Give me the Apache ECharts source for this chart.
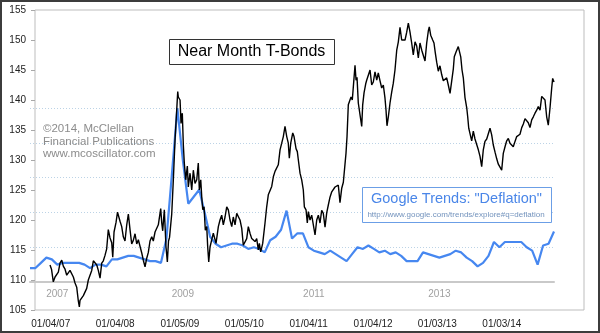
<!DOCTYPE html>
<html><head><meta charset="utf-8">
<script src="https://cdn.jsdelivr.net/npm/echarts@6.0.0/dist/echarts.min.js"></script>
<style>
html,body{margin:0;padding:0;background:#fff}
#wrap{position:relative;width:600px;height:333px}
#c{width:600px;height:333px}
#frame{position:absolute;left:0;top:0;width:600px;height:333px;box-sizing:border-box;border:2px solid #3c3c3c;pointer-events:none}
</style></head><body>
<div id="wrap"><div id="c"></div><div id="frame"></div></div>
<script>
// ---- Near Month T-Bond prices (x = decimal year) ----
const bondDates = [2006.997,2007.020,2007.048,2007.075,2007.101,2007.126,2007.152,2007.179,2007.203,2007.230,2007.256,2007.281,2007.307,2007.334,2007.359,2007.385,2007.411,2007.436,2007.452,2007.462,2007.489,2007.514,2007.540,2007.566,2007.591,2007.618,2007.644,2007.669,2007.695,2007.722,2007.746,2007.773,2007.799,2007.824,2007.850,2007.876,2007.901,2007.928,2007.954,2007.970,2007.990,2008.021,2008.044,2008.083,2008.109,2008.134,2008.160,2008.187,2008.212,2008.238,2008.264,2008.289,2008.316,2008.342,2008.367,2008.393,2008.420,2008.444,2008.471,2008.494,2008.522,2008.548,2008.575,2008.599,2008.626,2008.652,2008.677,2008.714,2008.730,2008.745,2008.770,2008.796,2008.817,2008.835,2008.851,2008.885,2008.910,2008.936,2008.962,2008.978,2008.987,2009.014,2009.029,2009.040,2009.049,2009.065,2009.080,2009.102,2009.127,2009.142,2009.169,2009.195,2009.220,2009.246,2009.273,2009.297,2009.313,2009.335,2009.350,2009.366,2009.386,2009.406,2009.428,2009.443,2009.459,2009.479,2009.505,2009.530,2009.572,2009.608,2009.634,2009.660,2009.685,2009.712,2009.738,2009.763,2009.789,2009.816,2009.840,2009.867,2009.893,2009.918,2009.944,2009.971,2009.995,2010.022,2010.048,2010.073,2010.099,2010.126,2010.151,2010.177,2010.203,2010.228,2010.244,2010.265,2010.296,2010.332,2010.358,2010.383,2010.410,2010.436,2010.461,2010.487,2010.514,2010.538,2010.565,2010.591,2010.616,2010.642,2010.669,2010.693,2010.709,2010.731,2010.762,2010.782,2010.813,2010.833,2010.849,2010.875,2010.901,2010.926,2010.942,2010.968,2010.988,2011.004,2011.030,2011.056,2011.081,2011.108,2011.134,2011.159,2011.185,2011.211,2011.236,2011.263,2011.289,2011.314,2011.340,2011.367,2011.391,2011.418,2011.444,2011.469,2011.495,2011.522,2011.547,2011.573,2011.588,2011.604,2011.624,2011.650,2011.666,2011.686,2011.713,2011.728,2011.744,2011.759,2011.779,2011.806,2011.832,2011.847,2011.868,2011.894,2011.909,2011.934,2011.961,2011.987,2012.012,2012.038,2012.065,2012.089,2012.116,2012.142,2012.167,2012.193,2012.209,2012.224,2012.245,2012.271,2012.297,2012.322,2012.348,2012.375,2012.400,2012.426,2012.452,2012.477,2012.504,2012.530,2012.555,2012.581,2012.607,2012.632,2012.659,2012.685,2012.710,2012.736,2012.763,2012.787,2012.814,2012.840,2012.865,2012.880,2012.902,2012.933,2012.953,2012.974,2012.995,2013.020,2013.046,2013.073,2013.098,2013.124,2013.150,2013.175,2013.202,2013.228,2013.253,2013.268,2013.295,2013.330,2013.346,2013.368,2013.388,2013.408,2013.434,2013.461,2013.476,2013.492,2013.512,2013.538,2013.563,2013.589,2013.616,2013.641,2013.667,2013.693,2013.718,2013.744,2013.771,2013.796,2013.822,2013.848,2013.873,2013.900,2013.926,2013.951,2013.977,2014.003,2014.028,2014.055,2014.081,2014.106,2014.132,2014.159,2014.183,2014.210,2014.236,2014.261,2014.287,2014.314,2014.339,2014.365,2014.391,2014.416,2014.442,2014.469,2014.494,2014.520,2014.546,2014.571,2014.598,2014.624,2014.649,2014.675,2014.701,2014.726,2014.753,2014.779,2014.794,2014.815];
const bondPrices = [112.5,111.8,109.7,110.5,110.2,111.3,112.8,113.3,112.3,111.8,110.8,110.6,111.6,111.3,110.5,109.5,108.8,106.5,105.5,106.6,106.8,107.4,107.7,108.6,110.0,110.3,111.6,113.2,112.9,112.5,111.6,110.3,112.8,113.2,114.1,115.2,118.4,117.0,116.2,113.8,118.0,119.6,121.3,119.8,118.9,117.2,116.5,119.2,121.0,118.4,116.0,116.6,117.7,116.0,116.7,116.5,114.5,113.3,112.2,113.5,114.6,116.5,117.2,116.5,118.0,118.3,119.2,121.9,119.5,118.2,121.7,115.5,113.0,116.5,117.1,121.0,126.7,133.3,138.3,141.4,140.5,140.0,136.1,137.4,137.8,132.5,129.5,126.7,129.0,125.5,127.8,125.0,128.3,126.1,126.7,129.5,125.0,126.7,123.9,121.7,122.2,118.3,118.9,115.5,113.0,115.5,116.7,117.8,116.1,118.9,120.0,120.8,119.2,120.5,122.2,121.7,120.0,118.9,120.5,119.2,121.1,121.4,120.0,118.6,115.8,115.5,116.9,118.9,117.8,116.9,117.2,116.4,116.9,115.0,116.1,114.7,116.1,119.5,122.2,124.2,123.9,125.6,127.2,128.1,128.3,129.2,131.7,132.8,133.9,135.6,133.9,132.8,130.3,132.8,134.5,133.9,131.9,131.4,130.0,127.8,126.7,125.0,122.2,121.7,119.5,121.4,120.0,120.8,121.1,117.5,120.0,120.8,119.5,121.6,121.1,118.8,121.2,122.5,123.8,124.7,124.7,125.5,125.5,125.8,122.9,125.3,126.3,126.1,131.1,133.9,139.2,139.0,140.5,140.0,140.0,145.8,143.3,143.8,139.5,139.5,135.6,139.2,141.2,142.7,143.3,143.0,145.0,142.5,143.0,144.7,143.3,144.5,143.2,142.0,142.5,140.3,138.3,135.7,137.2,139.5,141.3,142.8,145.0,148.3,149.7,152.1,150.0,149.7,150.0,151.3,152.8,151.3,149.5,147.5,149.7,149.0,147.0,149.5,148.3,148.2,146.5,149.5,151.5,152.2,150.8,150.0,149.5,147.8,146.3,144.8,145.7,144.2,143.2,143.5,143.7,142.5,141.1,143.2,145.2,147.2,148.0,148.9,149.2,147.2,145.0,143.7,140.4,138.7,137.2,135.3,135.6,133.2,134.8,133.5,133.3,131.7,130.6,128.9,131.7,133.1,133.5,133.6,135.3,134.2,132.5,131.3,130.2,129.3,129.0,128.3,131.1,132.2,133.2,133.6,132.8,133.1,132.2,133.1,133.9,134.0,134.3,135.4,136.0,136.9,137.2,136.2,135.4,136.7,137.2,137.8,138.3,138.9,138.3,140.6,140.8,140.0,137.2,135.8,138.7,142.0,143.6,143.0];

// ---- Google Trends "Deflation" (monthly, 0-100) ----
const trendMonths = [
 '2006-09','2006-10','2006-11','2006-12',
 '2007-01','2007-02','2007-03','2007-04','2007-05','2007-06','2007-07','2007-08','2007-09','2007-10','2007-11','2007-12',
 '2008-01','2008-02','2008-03','2008-04','2008-05','2008-06','2008-07','2008-08','2008-09','2008-10','2008-11','2008-12',
 '2009-01','2009-02','2009-03','2009-04','2009-05','2009-06','2009-07','2009-08','2009-09','2009-10','2009-11','2009-12',
 '2010-01','2010-02','2010-03','2010-04','2010-05','2010-06','2010-07','2010-08','2010-09','2010-10','2010-11','2010-12',
 '2011-01','2011-02','2011-03','2011-04','2011-05','2011-06','2011-07','2011-08','2011-09','2011-10','2011-11','2011-12',
 '2012-01','2012-02','2012-03','2012-04','2012-05','2012-06','2012-07','2012-08','2012-09','2012-10','2012-11','2012-12',
 '2013-01','2013-02','2013-03','2013-04','2013-05','2013-06','2013-07','2013-08','2013-09','2013-10','2013-11','2013-12',
 '2014-01','2014-02','2014-03','2014-04','2014-05','2014-06','2014-07','2014-08','2014-09'];
const trendValues = [8,8,11,14,13,10,11,11,11,11,10,8,10,10,9,13,13,14,15,15,14,13,12,12,11,25,62,100,70,45,49,53,40,26,22,20,21,22,22,21,19,20,19,17,24,26,30,41,25,28,28,20,18,17,16,18,16,14,12,16,20,19,21,19,17,18,16,17,15,12,12,12,17,16,15,14,15,16,18,17,14,12,9,11,15,23,20,23,23,23,23,20,18,10,21,22,29];
const trendLabelIdx = [5, 28, 52, 75];
const trendLabelText = ['2007', '2009', '2011', '2013'];

// ---- main axis tick labels ----
const xTickPos = [2007.008, 2008.008, 2009.011, 2010.011, 2011.008, 2012.008, 2013.005, 2014.005];
const xTickText = ['01/04/07', '01/04/08', '01/05/09', '01/05/10', '01/04/11', '01/04/12', '01/03/13', '01/03/14'];

const FONT = '"Liberation Sans", Arial, sans-serif';
const bondData = bondDates.map((d, i) => [d, bondPrices[i]]);

const chart = echarts.init(document.getElementById('c'));
chart.setOption({
  animation: false,
  backgroundColor: '#ffffff',
  textStyle: { fontFamily: FONT },
  grid: [
    { left: 35, right: 16, top: 10, bottom: 23, show: true, borderColor: '#bdbdbd', borderWidth: 1 },
    { left: 30, right: 46, top: 108, bottom: 51 }
  ],
  xAxis: [
    { gridIndex: 0, type: 'value', min: 2006.764, max: 2015.280,
      axisLine: { show: false }, axisTick: { show: false }, splitLine: { show: false },
      axisLabel: { customValues: xTickPos, color: '#222', fontSize: 10, margin: 9, fontFamily: FONT,
        formatter: v => { const k = xTickPos.findIndex(p => Math.abs(p - v) < 1e-6); return k >= 0 ? xTickText[k] : ''; } } },
    { gridIndex: 1, type: 'category', data: trendMonths, boundaryGap: false,
      axisLine: { lineStyle: { color: '#c9c9c9', width: 2 } }, axisTick: { show: false },
      axisLabel: { interval: (i) => trendLabelIdx.indexOf(i) >= 0, color: '#a0a0a0', fontSize: 10, margin: 7, fontFamily: FONT,
        formatter: (v, i) => { const k = trendLabelIdx.indexOf(i); return k >= 0 ? trendLabelText[k] : ''; } } }
  ],
  yAxis: [
    { gridIndex: 0, type: 'value', min: 105, max: 155, interval: 5,
      axisLine: { show: false }, axisTick: { show: true, length: 4, lineStyle: { color: '#a8a8a8' } },
      splitLine: { show: false },
      axisLabel: { color: '#222', fontSize: 10, margin: 9, fontFamily: FONT } },
    { gridIndex: 1, type: 'value', min: 0, max: 100, interval: 20,
      axisLine: { show: false }, axisTick: { show: false }, axisLabel: { show: false },
      splitLine: { lineStyle: { type: [1, 2], color: '#bcd3e6', width: 1 } } }
  ],
  series: [
    { type: 'line', name: 'Google Trends', xAxisIndex: 1, yAxisIndex: 1, data: trendValues,
      showSymbol: false, lineStyle: { color: '#4687f0', width: 2.2 }, silent: true },
    { type: 'line', name: 'T-Bonds', xAxisIndex: 0, yAxisIndex: 0, data: bondData,
      showSymbol: false, sampling: null, lineStyle: { color: '#000', width: 1.4 }, silent: true }
  ],
  graphic: [
    { type: 'rect', left: 169, top: 39, shape: { width: 165, height: 25 },
      style: { fill: '#fff', stroke: '#333', lineWidth: 1 }, z: 10 },
    { type: 'text', x: 251.5, y: 52, style: { text: 'Near Month T-Bonds', fill: '#000', font: '16px ' + FONT, textAlign: 'center', textVerticalAlign: 'middle' }, z: 11 },
    { type: 'rect', left: 362, top: 187, shape: { width: 189, height: 35 },
      style: { fill: '#fff', stroke: '#6b9ee6', lineWidth: 1 }, z: 10 },
    { type: 'text', x: 456.5, y: 199, style: { text: 'Google Trends: "Deflation"', fill: '#4a86e8', font: '14.5px ' + FONT, textAlign: 'center', textVerticalAlign: 'middle' }, z: 11 },
    { type: 'text', x: 456, y: 214.5, style: { text: 'http://www.google.com/trends/explore#q=deflation', fill: '#7393bd', font: '8px ' + FONT, textAlign: 'center', textVerticalAlign: 'middle' }, z: 11 },
    { type: 'text', x: 43, y: 129, style: { text: '\u00a92014, McClellan', fill: '#8c8c8c', font: '11.5px ' + FONT, textVerticalAlign: 'middle' }, z: 11 },
    { type: 'text', x: 43, y: 141.5, style: { text: 'Financial Publications', fill: '#8c8c8c', font: '11.5px ' + FONT, textVerticalAlign: 'middle' }, z: 11 },
    { type: 'text', x: 43, y: 154, style: { text: 'www.mcoscillator.com', fill: '#8c8c8c', font: '11.5px ' + FONT, textVerticalAlign: 'middle' }, z: 11 }
  ]
});
</script>
</body></html>
